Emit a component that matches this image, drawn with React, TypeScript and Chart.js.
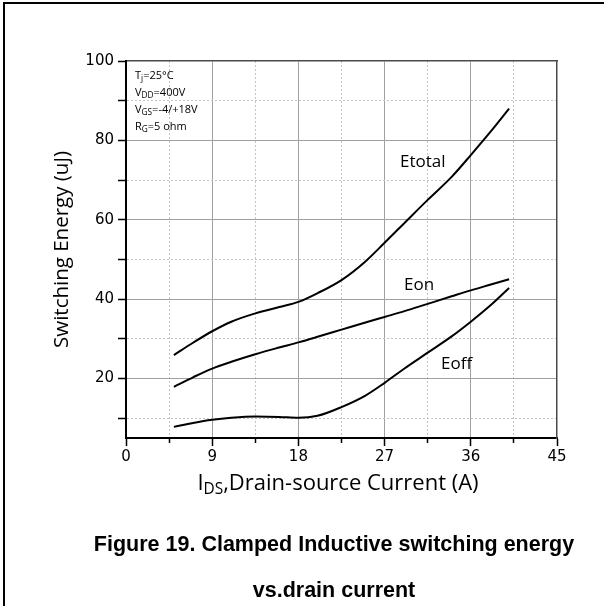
import React, { useEffect, useRef } from 'react';
import { Chart, registerables } from 'chart.js';

Chart.register(...registerables);

// ---- data ----
const currents = [5, 7, 9, 11, 13.5, 16, 18, 20, 22.5, 25, 27, 29, 31.5, 34, 36, 38, 40];
const eTotal = [25.9, 29.0, 31.9, 34.3, 36.4, 38.0, 39.3, 41.5, 44.8, 49.5, 54.2, 59.0, 65.0, 70.8, 76.3, 82.0, 88.0];
const eOn = [17.9, 20.3, 22.5, 24.2, 26.1, 27.8, 29.1, 30.5, 32.3, 34.1, 35.5, 36.9, 38.8, 40.7, 42.2, 43.6, 45.0];
const eOff = [7.8, 8.8, 9.6, 10.1, 10.4, 10.3, 10.1, 10.6, 12.8, 15.7, 18.9, 22.4, 26.5, 30.6, 34.3, 38.3, 42.8];

const xMin = 0;
const xMax = 45;
const xMajorStep = 9;
const xMinorStep = 4.5;
const yMin = 5;
const yMax = 100;
const yMajorStep = 20;
const yMinorStep = 10;

const isMult = (v: number, step: number) => Math.abs(v / step - Math.round(v / step)) < 1e-6;

const FONT = "'Open Sans', 'DejaVu Sans', sans-serif";
const TICK_FONT = "'DejaVu Sans', sans-serif";

const Sub = ({ children, size = '0.75em', top = '0.3em' }: any) => (
  <span style={{ fontSize: size, position: 'relative', top, lineHeight: 0 }}>{children}</span>
);

export default function App() {
  const ref = useRef<HTMLCanvasElement>(null);

  useEffect(() => {
    const mk = (vals: number[]) => currents.map((x, i) => ({ x, y: vals[i] }));
    const ds = (label: string, vals: number[]) => ({
      label,
      data: mk(vals),
      borderColor: '#000',
      borderWidth: 2,
      pointRadius: 0,
      fill: false,
      cubicInterpolationMode: 'monotone' as const,
      xAxisID: 'x',
      yAxisID: 'y',
    });
    const tv = (ctx: any) => (ctx && ctx.tick ? ctx.tick.value : NaN);

    const chart = new Chart(ref.current as HTMLCanvasElement, {
      type: 'line',
      data: { datasets: [ds('Etotal', eTotal), ds('Eon', eOn), ds('Eoff', eOff)] },
      options: {
        animation: false,
        responsive: false,
        events: [],
        layout: { padding: { left: 0, top: 61, right: 47, bottom: 88 } },
        plugins: { legend: { display: false }, tooltip: { enabled: false } },
        scales: {
          x: {
            type: 'linear',
            position: 'bottom',
            min: xMin,
            max: xMax,
            afterFit: (s: any) => { s.height = 80; },
            ticks: {
              stepSize: xMinorStep,
              autoSkip: false,
              maxRotation: 0,
              padding: 2,
              color: '#000',
              font: { family: TICK_FONT, size: 15 },
              callback: (v: any) => (isMult(Number(v), xMajorStep) ? String(v) : ''),
            },
            grid: {
              drawOnChartArea: true,
              color: (ctx: any) => (isMult(tv(ctx), xMajorStep) ? 'rgba(0,0,0,0)' : '#c4c4c4'),
              lineWidth: 1,
              drawTicks: true,
              tickLength: 8,
              tickColor: '#000',
              tickWidth: 1.5,
              tickBorderDash: (ctx: any) => (isMult(tv(ctx), xMajorStep) ? [] : [4, 100]),
            },
            border: { display: true, color: '#000', width: 2, dash: [2, 2] },
          },
          xTop: {
            type: 'linear',
            position: 'top',
            min: xMin,
            max: xMax,
            afterFit: (s: any) => { s.height = 0; },
            ticks: { display: false, stepSize: xMajorStep, autoSkip: false },
            grid: {
              drawTicks: false,
              color: (ctx: any) => {
                const v = tv(ctx);
                return v === xMin || v === xMax ? 'rgba(0,0,0,0)' : '#a0a0a0';
              },
              lineWidth: 1,
            },
            border: { display: true, color: '#4a4a4a', width: 1.5 },
          },
          y: {
            type: 'linear',
            position: 'left',
            min: yMin,
            max: yMax,
            afterFit: (s: any) => { s.width = 126; },
            ticks: {
              stepSize: yMinorStep,
              includeBounds: false,
              autoSkip: false,
              padding: 4,
              color: '#000',
              font: { family: TICK_FONT, size: 15 },
              callback: (v: any) => (isMult(Number(v), yMajorStep) ? String(v) : ''),
            },
            grid: {
              color: (ctx: any) => (isMult(tv(ctx), yMajorStep) ? 'rgba(0,0,0,0)' : '#c4c4c4'),
              lineWidth: 1,
              drawTicks: true,
              tickLength: 8,
              tickColor: '#000',
              tickWidth: 1.5,
            },
            border: { display: true, color: '#000', width: 2, dash: [2, 2] },
            title: {
              display: true,
              text: 'Switching Energy (uJ)',
              color: '#000',
              font: { family: FONT, size: 20.5 },
              padding: { top: 50, bottom: 0 },
            },
          },
          yRight: {
            type: 'linear',
            position: 'right',
            min: yMin,
            max: yMax,
            afterFit: (s: any) => { s.width = 0; },
            ticks: { display: false, stepSize: yMajorStep, includeBounds: false, autoSkip: false },
            grid: {
              drawTicks: false,
              color: (ctx: any) => (tv(ctx) === yMax ? 'rgba(0,0,0,0)' : '#a0a0a0'),
              lineWidth: 1,
            },
            border: { display: true, color: '#4a4a4a', width: 1.5 },
          },
        },
      } as any,
    });
    return () => chart.destroy();
  }, []);

  const abs = (o: any) => ({ position: 'absolute' as const, ...o });
  const capStyle = {
    width: 600,
    textAlign: 'center',
    fontFamily: "'Liberation Sans', Arial, sans-serif",
    fontWeight: 'bold',
    fontSize: 21.5,
    lineHeight: '21.5px',
    color: '#000',
    whiteSpace: 'nowrap',
  };

  return (
    <div style={abs({ left: 0, top: 0, width: 604, height: 606, overflow: 'hidden', background: '#fff' })}>
      <div style={abs({ left: 3, top: 2, width: 700, height: 700, border: '2px solid #000' })} />
      <canvas
        ref={ref}
        width={604}
        height={606}
        style={abs({ left: 0, top: 0, width: 604, height: 606, display: 'block' })}
      />
      {/* conditions */}
      <div style={abs({ left: 135, top: 66, fontFamily: FONT, fontSize: 11, lineHeight: '17px', color: '#000', whiteSpace: 'nowrap' })}>
        <div>T<Sub>j</Sub>=25°C</div>
        <div>V<Sub>DD</Sub>=400V</div>
        <div>V<Sub>GS</Sub>=-4/+18V</div>
        <div>R<Sub>G</Sub>=5 ohm</div>
      </div>
      {/* curve labels */}
      <div style={abs({ left: 400, top: 152.2, fontFamily: FONT, fontSize: 17, lineHeight: '17px', color: '#000' })}>Etotal</div>
      <div style={abs({ left: 404, top: 274.9, fontFamily: FONT, fontSize: 17, lineHeight: '17px', color: '#000' })}>Eon</div>
      <div style={abs({ left: 441, top: 353.9, fontFamily: FONT, fontSize: 17, lineHeight: '17px', color: '#000' })}>Eoff</div>
      {/* x axis title */}
      <div style={abs({ left: 338, top: 469.5, transform: 'translateX(-50%)', fontFamily: FONT, fontSize: 22, lineHeight: '22px', color: '#000', whiteSpace: 'nowrap' })}>
        I<Sub size="0.7em" top="4.5px">DS</Sub>,Drain-source Current (A)
      </div>
      {/* caption */}
      <div style={abs({ left: 34, top: 533.5, ...capStyle })}>Figure 19. Clamped Inductive switching energy</div>
      <div style={abs({ left: 34, top: 579.5, ...capStyle })}>vs.drain current</div>
    </div>
  );
}
